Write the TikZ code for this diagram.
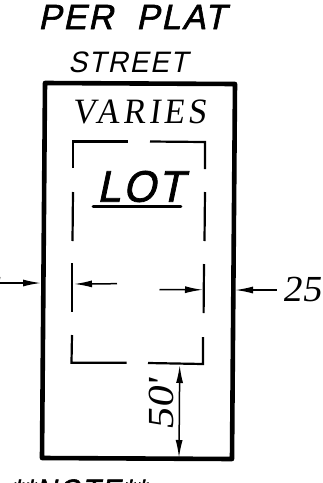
\documentclass[tikz,border=0pt]{standalone}
\usepackage{fontspec}
\newfontfamily\cadsans[FakeSlant=0.22,LetterSpace=6]{Liberation Sans}
\newfontfamily\cadsansb[FakeSlant=0.22,FakeBold=1.8,LetterSpace=6]{Liberation Sans}
\newfontfamily\cadserif[FakeSlant=0.14,LetterSpace=10]{Liberation Serif}
\newfontfamily\cadnum[FakeSlant=0.14]{Liberation Serif}
\usetikzlibrary{arrows.meta}
\tikzset{
  lotline/.style={line width=2.2pt,line cap=butt,line join=miter},
  border/.style={line width=4.6pt,line join=round},
  dim/.style={line width=1.5pt,{Latex[length=18pt,width=7pt]}-},
  dimb/.style={line width=1.5pt,{Latex[length=18pt,width=7pt]}-{Latex[length=18pt,width=7pt]}},
  lbl/.style={inner sep=0pt,anchor=center}
}
\begin{document}
\begin{tikzpicture}[x=1pt,y=-1pt]
\useasboundingbox (0,0) rectangle (323,483);
\clip (0,0) rectangle (323,483);
% lot border
\draw[border] (45,83) -- (235,84) -- (232,459) -- (42,458) -- cycle;
% setback lines
\draw[lotline] (73,168) -- (73,141.5) -- (128,141.5);
\draw[lotline] (150,141.5) -- (205,142) -- (205,169);
\draw[lotline] (73,192) -- (72.5,241);
\draw[lotline] (205,192) -- (204.5,241);
\draw[lotline] (72.3,263) -- (72.3,312);
\draw[lotline] (204,264) -- (203.6,313);
\draw[lotline] (72,335) -- (71.5,362.7) -- (126.5,362.7);
\draw[lotline] (148,363) -- (203,364) -- (203,337);
% anchors for dimensions
\coordinate (la) at (117,283.7);
\coordinate (lb) at (74,284);
\coordinate (ra) at (159.5,289.5);
\coordinate (rb) at (203,289.8);
\coordinate (oa) at (0,283);
\coordinate (ob) at (41,283);
\coordinate (pa) at (277,290);
\coordinate (pb) at (235,290);
\coordinate (va) at (179.7,365);
\coordinate (vb) at (179,458);
\draw[dim] (lb) -- (la);
\draw[dim] (rb) -- (ra);
\draw[dim] (ob) -- (oa);
\draw[dim] (pb) -- (pa);
\draw[dimb] (va) -- (vb);
% LOT underline
\draw[line width=2.6pt,line cap=round] (93,206.5) -- (181,206.5);
% texts
\node[lbl] (perplat) at (132,17) {\scalebox{0.98}[1]{\cadsansb\fontsize{35}{35}\selectfont PER\hspace{12pt} PLAT}};
\node[lbl] (street) at (128,62) {\scalebox{0.97}[1.02]{\cadsans\fontsize{29}{29}\selectfont STREET}};
\node[lbl] (varies) at (139,111.5) {\scalebox{1.02}[1.08]{\cadserif\fontsize{33}{33}\selectfont VARIES}};
\node[lbl] (lot) at (140.5,186.5) {\scalebox{1}[1.05]{\cadsansb\fontsize{42}{42}\selectfont LOT}};
\node[lbl] (n25) at (301.5,290) {\scalebox{1.1}[1.05]{\cadnum\fontsize{35}{35}\selectfont 25}};
\node[lbl] (n50) at (161,405) {\rotatebox{90}{\scalebox{1.22}[1.05]{\cadnum\fontsize{35}{35}\selectfont 50'}}};
\node[lbl,anchor=east] (n25l) at (0.5,290) {\scalebox{1.1}[1.05]{\cadnum\fontsize{35}{35}\selectfont 25}};
\node[lbl] (note) at (78,490) {\scalebox{0.95}[1]{\cadsansb\fontsize{30}{30}\selectfont **NOTE**}};
\end{tikzpicture}
\end{document}
